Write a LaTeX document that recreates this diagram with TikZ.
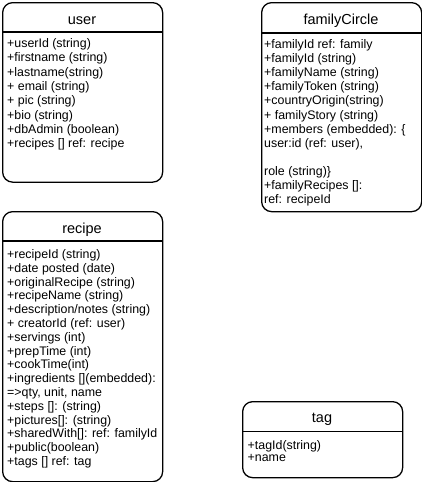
\documentclass[tikz,border=0pt]{standalone}
\usepackage{fontspec}
\setmainfont{Liberation Sans}
\begin{document}
\begin{tikzpicture}[x=1pt,y=-1pt,
  box/.style={draw=black, line width=1.3pt, rounded corners=10pt, inner sep=0pt, anchor=north west, minimum width=160pt},
  sep/.style={draw=black, line width=1.3pt},
  ttl/.style={font=\fontsize{14.5}{16}\selectfont, inner sep=0pt, anchor=base},
  body/.style={align=left, inner sep=0pt, anchor=base west}]
\fill[white] (0,0) rectangle (422,482);
\useasboundingbox (0,0) rectangle (422,482);
% user
\node[box, minimum height=179.5pt] (user) at (2,2) {};
\draw[sep] ([yshift=-30pt]user.north west) -- ([yshift=-30pt]user.north east);
\node[ttl] (usert) at (82,24.3) {user};
\node[body, font=\fontsize{12.4}{14.3}\selectfont] (userb) at (7,147.6) {+userId (string)\\+firstname (string)\\+lastname(string)\\+ email (string)\\+ pic (string)\\+bio (string)\\+dbAdmin (boolean)\\+recipes [] ref: recipe};
% familyCircle
\node[box, minimum height=209pt] (fc) at (261,2) {};
\draw[sep] ([yshift=-31pt]fc.north west) -- ([yshift=-31pt]fc.north east);
\node[ttl] (fct) at (341,24.3) {familyCircle};
\node[body, font=\fontsize{12.4}{14.1}\selectfont] (fcb) at (264,203.6) {+familyId ref: family\\+familyId (string)\\+familyName (string)\\+familyToken (string)\\+countryOrigin(string)\\+ familyStory (string)\\+members (embedded): \{\\user:id (ref: user),\\\mbox{}\\role (string)\}\\+familyRecipes []:\\ref: recipeId};
% recipe
\node[box, minimum height=270pt] (recipe) at (2,211) {};
\draw[sep] ([yshift=-30pt]recipe.north west) -- ([yshift=-30pt]recipe.north east);
\node[ttl] (recipet) at (82,233.3) {recipe};
\node[body, font=\fontsize{12.4}{13.8}\selectfont] (recipeb) at (7,465.5) {+recipeId (string)\\+date posted (date)\\+originalRecipe (string)\\+recipeName (string)\\+description/notes (string)\\+ creatorId (ref: user)\\+servings (int)\\+prepTime (int)\\+cookTime(int)\\+ingredients [](embedded):\\=>qty, unit, name\\+steps []: (string)\\+pictures[]: (string)\\+sharedWith[]: ref: familyId\\+public(boolean)\\+tags [] ref: tag};
% tag
\node[box, minimum height=76pt] (tag) at (242,401) {};
\draw[sep] ([yshift=-30.7pt]tag.north west) -- ([yshift=-30.7pt]tag.north east);
\node[ttl] (tagt) at (322,422.5) {tag};
\node[body, font=\fontsize{12.4}{12.7}\selectfont] (tagb) at (247.5,461.7) {+tagId(string)\\+name};
\end{tikzpicture}
\end{document}
